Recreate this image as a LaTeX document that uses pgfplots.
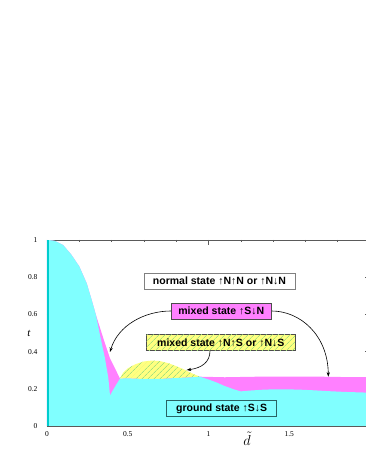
\documentclass[border=0pt]{standalone}
\usepackage{pgfplots}
\pgfplotsset{compat=1.18}
\usepackage{fontspec}
\setmainfont{Liberation Serif}
\newfontfamily\boxfont{Liberation Sans}
\usetikzlibrary{patterns.meta,arrows.meta}
\definecolor{cyanF}{RGB}{128,255,255}
\definecolor{magF}{RGB}{255,128,255}
\definecolor{yelF}{RGB}{255,255,128}
\definecolor{hatch}{RGB}{165,225,125}
\definecolor{tealS}{RGB}{0,205,205}
\definecolor{axgray}{RGB}{90,90,90}
\begin{document}
\begin{tikzpicture}
\useasboundingbox (0,0) rectangle (366pt,473pt);
\begin{axis}[
  at={(47pt,47pt)}, anchor=south west,
  scale only axis, width=323pt, height=186pt,
  xmin=0, xmax=2, ymin=0, ymax=1,
  axis line style={draw=axgray, line width=0.5pt},
  tick style={draw=axgray, line width=0.5pt},
  major tick length=5.5pt, minor tick length=2.5pt,
  xtick={1}, xticklabels={1},
  minor xtick={0.2,0.4,0.6,0.8,1.2,1.4,1.6,1.8},
  extra x ticks={0,0.5,1.5}, extra x tick labels={0,0.5,1.5},
  extra x tick style={grid=none, tick style={draw=none}},
  ytick={0,0.2,0.4,0.6,0.8,1},
  /pgf/number format/assume math mode=true,
  ticklabel style={font=\fontsize{7.5}{8}\selectfont},
  xticklabel style={yshift=-2pt},
  yticklabel style={xshift=-6pt},
  xlabel={$\tilde{d}$},
  xlabel style={at={(axis description cs:0.619,0)}, anchor=center, yshift=-13pt, font=\Large},
  ylabel={\textit{t}},
  ylabel style={at={(axis description cs:0,0.5)}, rotate=-90, anchor=center, xshift=-18pt, font=\fontsize{11}{12}\selectfont},
]
% magenta (mixed state up-S down-N)
\addplot[fill=magF, draw=none] coordinates {
 (0,0) (0,1) (0.03,0.998) (0.05,0.995) (0.1,0.973) (0.15,0.922) (0.2,0.858)
 (0.246,0.767) (0.277,0.677) (0.303,0.597) (0.349,0.471) (0.39,0.364) (0.452,0.255)
 (0.947,0.265) (1.1,0.262) (1.3,0.265) (1.5,0.266) (1.7,0.265) (1.85,0.263) (2,0.262) (2,0)} -- cycle;
% yellow (mixed state up-N up-S)
\addplot[fill=yelF, draw=none, postaction={pattern={Lines[angle=45,distance=4pt,line width=0.7pt]}, pattern color=hatch}] coordinates {
 (0.452,0.255) (0.47,0.285) (0.5,0.31) (0.55,0.333) (0.6,0.347) (0.65,0.352) (0.7,0.349)
 (0.75,0.338) (0.8,0.322) (0.85,0.303) (0.9,0.282) (0.947,0.265)
 (0.9,0.262) (0.8,0.258) (0.7,0.253) (0.6,0.253) (0.5,0.256)} -- cycle;
% cyan (ground state)
\addplot[fill=cyanF, draw=none] coordinates {
 (0,0) (0,1) (0.03,0.998) (0.05,0.995) (0.1,0.973) (0.15,0.922) (0.2,0.858)
 (0.246,0.767) (0.277,0.677) (0.303,0.597) (0.328,0.489) (0.359,0.364) (0.38,0.256)
 (0.39,0.164) (0.42,0.21) (0.452,0.255) (0.5,0.256) (0.6,0.253) (0.7,0.253) (0.8,0.258)
 (0.9,0.262) (0.947,0.265) (1.0,0.25) (1.05,0.234) (1.1,0.215) (1.154,0.198) (1.2,0.186)
 (1.25,0.19) (1.35,0.196) (1.45,0.197) (1.55,0.196) (1.65,0.192) (1.75,0.187) (1.85,0.183)
 (2,0.179) (2,0)} -- cycle;
\addplot[draw=tealS, line width=2pt] coordinates {(0.006,0) (0.006,1)};
\end{axis}
% arrows
\draw[line width=0.6pt, -{Stealth[length=4.5pt,width=3.2pt]}] (171pt,162pt) .. controls (145pt,162pt) and (118pt,148pt) .. (110pt,121pt);
\draw[line width=0.6pt, -{Stealth[length=4.5pt,width=3.2pt]}] (271.7pt,162pt) .. controls (300pt,162pt) and (328pt,138pt) .. (328.3pt,96.3pt);
\draw[line width=0.6pt, -{Stealth[length=4.5pt,width=3.2pt]}] (210pt,122.3pt) .. controls (210pt,111pt) and (202pt,105pt) .. (186.7pt,103pt);
% boxes
\tikzset{lbl/.style={line width=0.7pt, inner sep=0pt, minimum height=16pt, font=\boxfont\bfseries\fontsize{10.5}{11}\selectfont}}
\node[lbl, draw=gray, fill=white, minimum width=151pt] at (219.5pt,192pt) {normal state ↑N↑N or ↑N↓N};
\node[lbl, draw=black!70, fill=magF, minimum width=100.7pt] at (221.3pt,162pt) {mixed state ↑S↓N};
\node[lbl, draw=black!70, fill=yelF, postaction={pattern={Lines[angle=45,distance=4pt,line width=0.7pt]}, pattern color=hatch}, minimum width=148.3pt] at (220.8pt,130.5pt) {};
\node[lbl, minimum width=148.3pt] at (220.8pt,130.5pt) {mixed state ↑N↑S or ↑N↓S};
\node[lbl, draw={rgb,255:red,40;green,100;blue,100}, fill=cyanF, minimum width=110pt] at (221.7pt,64.3pt) {ground state ↑S↓S};
\end{tikzpicture}
\end{document}
